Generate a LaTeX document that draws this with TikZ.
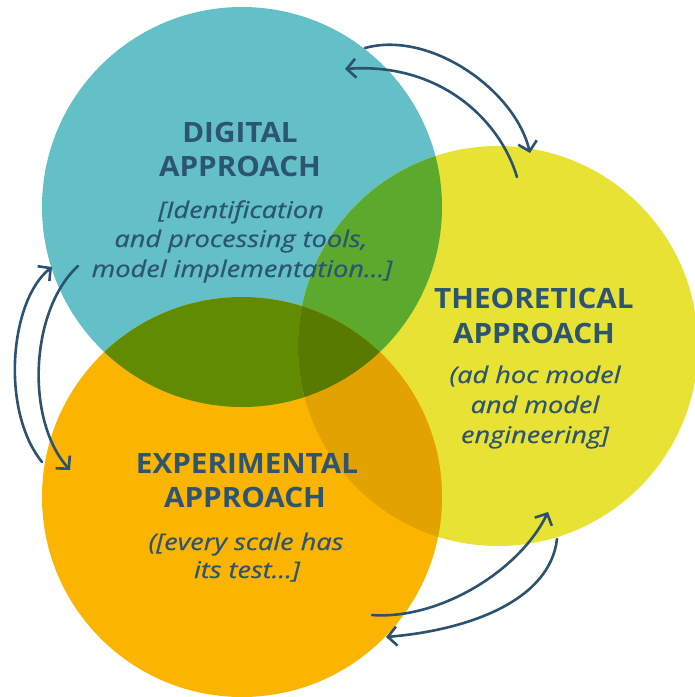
\documentclass[tikz,border=0pt]{standalone}
\usepackage{fontspec}
\setmainfont{Open Sans}
\newfontfamily\titlefont[FakeStretch=1.06]{Open Sans}
\newfontfamily\notefont[FakeStretch=1.18,FakeBold=0.6]{Open Sans}
\usetikzlibrary{arrows.meta}
\definecolor{cteal}{HTML}{63C0C6}
\definecolor{cyellow}{HTML}{E8E235}
\definecolor{corange}{HTML}{FBB500}
\definecolor{cgreen}{HTML}{5CAA2D}
\definecolor{colive}{HTML}{618B00}
\definecolor{cgold}{HTML}{E2A200}
\definecolor{ctriple}{HTML}{587A00}
\definecolor{txt}{HTML}{2D5573}
\definecolor{arr}{HTML}{2C5272}
\begin{document}
\begin{tikzpicture}[x=1pt,y=-1pt,
  title/.style={anchor=base, text=txt, font=\titlefont\fontsize{28}{34}\selectfont\bfseries, inner sep=0pt},
  note/.style={anchor=base, text=txt, font=\notefont\fontsize{23}{30}\selectfont\itshape, inner sep=0pt},
  cycarrow/.style={draw=arr, line width=2.6pt, -{Straight Barb[length=9pt,width=19pt]}, line cap=round}]
\useasboundingbox (0,0) rectangle (695,697);
\def\cD{(242,207) circle[radius=200pt]}
\def\cT{(498,346) circle[radius=200pt]}
\def\cE{(242,497) circle[radius=200pt]}
% circles
\fill[cteal] \cD;
\fill[cyellow] \cT;
\fill[corange] \cE;
\begin{scope}\clip \cD; \fill[cgreen] \cT; \end{scope}
\begin{scope}\clip \cD; \fill[colive] \cE; \end{scope}
\begin{scope}\clip \cT; \fill[cgold] \cE; \end{scope}
\begin{scope}\clip \cD; \clip \cT; \fill[ctriple] \cE; \end{scope}
% texts
\node[title] (d1) at (240,142) {DIGITAL};
\node[title] (d2) at (240,176) {APPROACH};
\node[note] (d3) at (241,218) {[Identification};
\node[note] (d4) at (241,247) {and processing tools,};
\node[note] (d5) at (242,277) {model implementation...]};
\node[title] (t1) at (534,308) {THEORETICAL};
\node[title] (t2) at (534,343) {APPROACH};
\node[note] (t3) at (535,383) {(ad hoc model};
\node[note] (t4) at (535,413) {and model};
\node[note] (t5) at (535,443) {engineering]};
\node[title] (e1) at (247,473) {EXPERIMENTAL};
\node[title] (e2) at (245,507) {APPROACH};
\node[note] (e3) at (246,550) {([every scale has};
\node[note] (e4) at (247,578) {its test...]};
% arrows
\coordinate (a1) at (365,48);  \coordinate (a2) at (530,153);
\coordinate (b1) at (517,177); \coordinate (b2) at (345,69);
\coordinate (c1) at (42,462);  \coordinate (c2) at (52,267);
\coordinate (f1) at (78,266);  \coordinate (f2) at (70,470);
\coordinate (e1a) at (372,615); \coordinate (e2a) at (548,512);
\coordinate (g1) at (557,539); \coordinate (g2) at (386,637);
\draw[cycarrow] (a1) .. controls (430,30) and (515,90) .. (a2);
\draw[cycarrow] (b1) .. controls (500,120) and (440,62) .. (b2);
\draw[cycarrow] (c1) .. controls (0,410) and (10,300) .. (c2);
\draw[cycarrow] (f1) .. controls (30,310) and (25,420) .. (f2);
\draw[cycarrow] (e1a) .. controls (440,620) and (520,570) .. (e2a);
\draw[cycarrow] (g1) .. controls (550,600) and (470,630) .. (g2);
\end{tikzpicture}
\end{document}
